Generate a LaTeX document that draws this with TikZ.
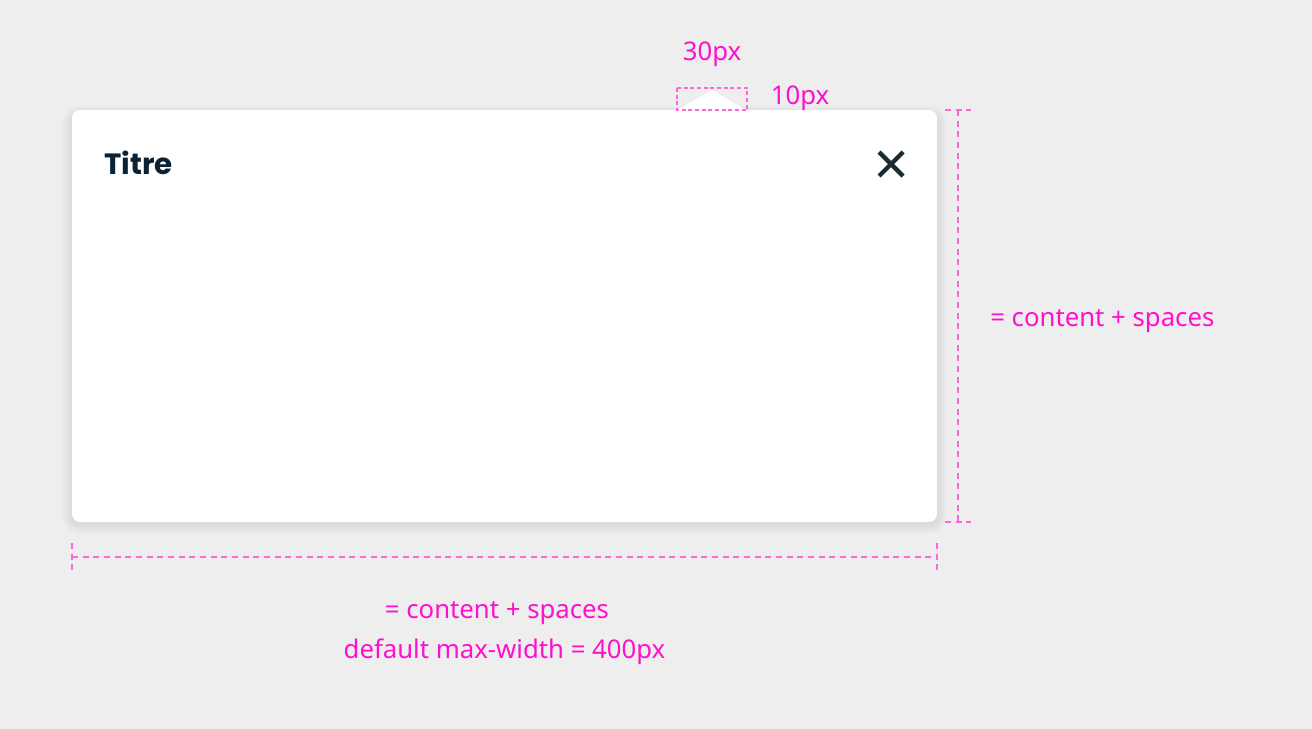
\documentclass[tikz,border=0pt]{standalone}
\usepackage{fontspec}
\setmainfont{Noto Sans}
\newfontfamily\titlefont{Poppins}
\usetikzlibrary{calc}

\definecolor{pagebg}{HTML}{EEEEEE}
\definecolor{magtext}{HTML}{FF10CC}
\definecolor{magdash}{HTML}{FF66D8}
\definecolor{titleink}{HTML}{0B2234}
\definecolor{closeink}{HTML}{1C2B31}

\begin{document}
\begin{tikzpicture}[
  x=0.75pt, y=-0.75pt,
  card/.style={fill=white, rounded corners=6pt, minimum width=648.75pt, minimum height=309pt, inner sep=0pt},
  dim/.style={draw=magdash, line width=1.5pt, dash pattern=on 4.5pt off 3.5pt},
  measure/.style={text=magtext, font=\fontsize{19.3pt}{23pt}\selectfont, inner sep=0pt, anchor=base},
  closex/.style={draw=closeink, line width=3.2pt}
]

% background and frame
\useasboundingbox (0,0) rectangle (1312,728);
\fill[pagebg] (-5,-5) rectangle (1317,733);

% soft shadow under the dialog
\foreach \s in {1,...,10}
  \fill[black, opacity=0.009, rounded corners=6pt+0.75*\s pt]
    (72-\s,110-\s+5) rectangle (937+\s,522+\s+2);

% the dialog
\node[card] (card) at (504.5,316) {};
\fill[white, rounded corners=1.5pt] (677,110) -- (712,90) -- (746,110) -- cycle;

\node[anchor=base west, text=titleink, font=\titlefont\bfseries\fontsize{22pt}{26pt}\selectfont, inner sep=0pt]
  (title) at (104,174) {Titre};
\coordinate (close) at (891,164);
\draw[closex] ($(close)+(-12,-12)$) -- ($(close)+(12,12)$);
\draw[closex] ($(close)+(-12,12)$) -- ($(close)+(12,-12)$);

% arrow size
\draw[dim, line width=1.1pt, dash pattern=on 3pt off 2pt] (677,88) rectangle (747,110);
\node[measure] (arrowwidth) at (712,60) {30px};
\node[measure] (arrowheight) at (800,104) {10px};

% height
\coordinate (htop) at (958,110);
\coordinate (hbot) at (958,522);
\draw[dim] (htop) -- (hbot);
\draw[dim] ($(htop)+(-13,0)$) -- ($(htop)+(13,0)$);
\draw[dim] ($(hbot)+(-13,0)$) -- ($(hbot)+(13,0)$);
\node[measure, anchor=base west] (heightnote) at (990,326) {= content + spaces};

% width
\coordinate (wleft) at (72,557);
\coordinate (wright) at (937,557);
\draw[dim] (wleft) -- (wright);
\draw[dim] ($(wleft)+(0,-14)$) -- ($(wleft)+(0,15)$);
\draw[dim] ($(wright)+(0,-14)$) -- ($(wright)+(0,15)$);
\node[measure] (widthnote) at (497,618) {= content + spaces};
\node[measure] (maxnote) at (504.5,658) {default max-width = 400px};

\end{tikzpicture}
\end{document}
